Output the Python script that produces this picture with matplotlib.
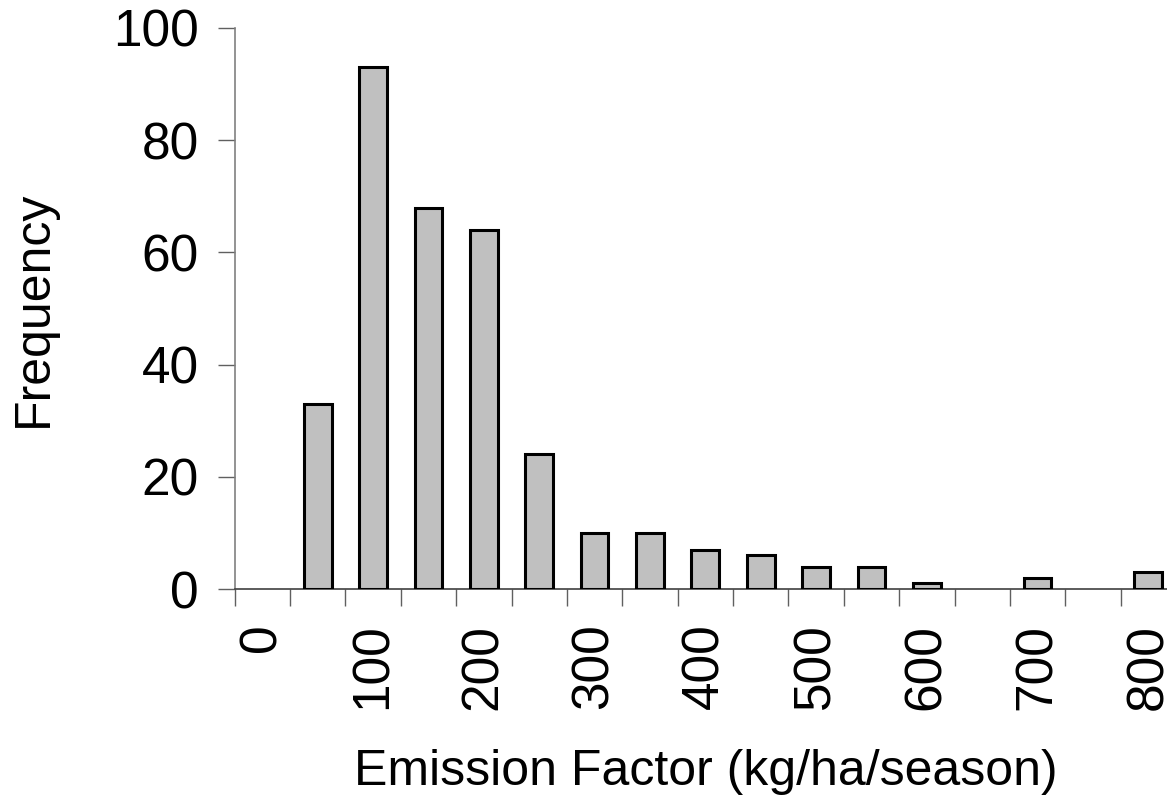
import matplotlib
matplotlib.use("Agg")
import matplotlib.pyplot as plt
import numpy as np

plt.rcParams['font.family'] = ['Liberation Sans', 'DejaVu Sans']

# histogram bins (kg/ha/season) and counts
bins = [0, 50, 100, 150, 200, 250, 300, 350, 400, 450, 500, 550, 600, 650, 700, 750, 800]
counts = [0, 33, 93, 68, 64, 24, 10, 10, 7, 6, 4, 4, 1, 0, 2, 0, 3]
tick_labels = ['0', '100', '200', '300', '400', '500', '600', '700', '800']

fig = plt.figure(figsize=(11.67, 7.95), dpi=100)
ax = fig.add_axes([0.2011, 0.2591, 0.8066, 0.7057])

x = np.arange(len(bins))
# empty bins get no outline (Excel draws nothing there)
edges = ['black' if c > 0 else 'none' for c in counts]
ax.bar(x, counts, width=0.5, color='#c0c0c0', edgecolor=edges, linewidth=2.2, zorder=3)

ax.set_xlim(-0.5, len(bins) - 0.5)
ax.set_ylim(0, 100)
ax.set_yticks([0, 20, 40, 60, 80, 100])

# ticks on category boundaries, labels every other category
ax.set_xticks(np.arange(len(bins)) - 0.5)
ax.set_xticklabels([])
ax.set_xticks(x[::2], minor=True)
ax.set_xticklabels(tick_labels, minor=True, rotation=90, va='top', ha='center')
ax.tick_params(axis='x', which='minor', length=0, pad=25, labelsize=37)
ax.tick_params(axis='x', which='major', length=12, width=1, color='#606060', direction='out')
ax.tick_params(axis='y', length=12, width=1, color='#606060', pad=14, labelsize=37)

for s in ['top', 'right']:
    ax.spines[s].set_visible(False)
ax.spines['left'].set_color('#808080')
ax.spines['bottom'].set_color('#404040')
ax.spines['left'].set_linewidth(1.2)
ax.spines['bottom'].set_linewidth(1.2)

ax.set_xlabel('Emission Factor (kg/ha/season)', fontsize=36, labelpad=28)
ax.set_ylabel('Frequency', fontsize=36, labelpad=40)

fig.savefig('out.png', dpi=100)
